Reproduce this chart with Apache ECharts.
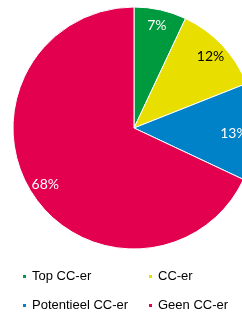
<!DOCTYPE html>
<html>
<head>
<meta charset="utf-8">
<script src="https://cdn.jsdelivr.net/npm/echarts@6/dist/echarts.min.js"></script>
<style>
html,body{margin:0;padding:0;background:#fff;}
#c{width:242px;height:312px;}
</style>
</head>
<body>
<div id="c"></div>
<script>
const categories = ['Top CC-er', 'CC-er', 'Potentieel CC-er', 'Geen CC-er'];
const values = [7, 12, 13, 68];
const colors = ['#009a3e', '#e8df00', '#0082c8', '#e2004f'];
const labelColors = ['#ffffff', '#000000', '#ffffff', '#ffffff'];

const chart = echarts.init(document.getElementById('c'), null, {renderer: 'canvas'});
const mainData = categories.map((n, i) => ({name: n, value: values[i], itemStyle: {color: colors[i]}}));
const labelData = categories.map((n, i) => ({
  name: n, value: values[i],
  itemStyle: {color: 'rgba(0,0,0,0)', borderWidth: 0},
  label: i === 2 ? {color: labelColors[i], offset: [-5, 2]} : {color: labelColors[i]}
}));

const legendText = {fontFamily: 'Liberation Sans', fontSize: 13, color: '#000'};
const legendBase = {orient: 'vertical', top: 270, height: 60, padding: 0, itemWidth: 5, itemHeight: 5, itemGap: 16, icon: 'rect', textStyle: legendText, selectedMode: false};
chart.setOption({
  animation: false,
  legend: [
    Object.assign({}, legendBase, {data: [categories[0], categories[2]], left: 21}),
    Object.assign({}, legendBase, {data: [categories[1], categories[3]], left: 147})
  ],
  series: [
    {
      type: 'pie', center: [134, 128], radius: [0, 121], startAngle: 90, clockwise: true,
      data: mainData, label: {show: false}, labelLine: {show: false},
      itemStyle: {borderColor: '#fff', borderWidth: 1},
      emphasis: {disabled: true}, silent: true
    },
    {
      type: 'pie', center: [134, 128], radius: [83, 121], startAngle: 90, clockwise: true,
      data: labelData,
      label: {show: true, position: 'inside', formatter: '{c}%', fontFamily: 'Lato', fontSize: 14},
      labelLine: {show: false}, emphasis: {disabled: true}, silent: true
    }
  ]
});
</script>
</body>
</html>
